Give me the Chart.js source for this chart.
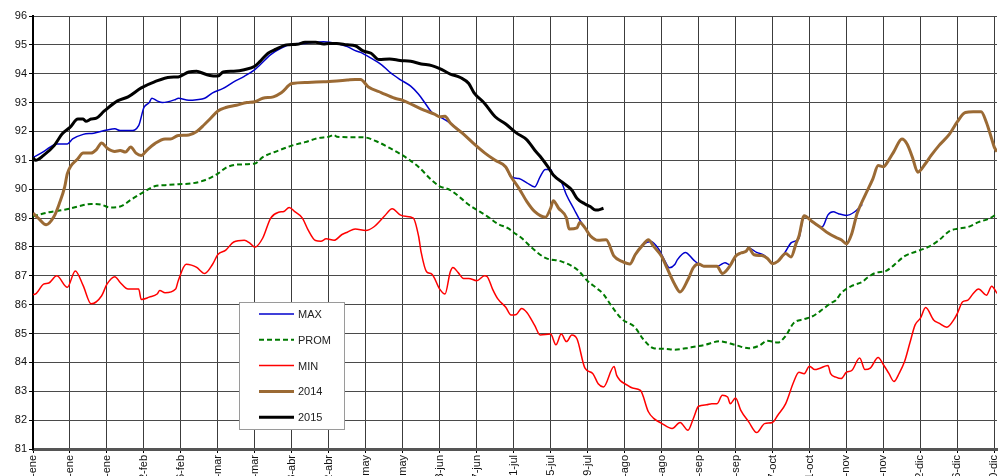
<!DOCTYPE html>
<html>
<head>
<meta charset="utf-8">
<script src="https://cdn.jsdelivr.net/npm/chart.js@4.4.1/dist/chart.umd.min.js"></script>
<style>
    html, body { margin: 0; padding: 0; background: #fff; }
    #wrap { width: 998px; height: 476px; overflow: hidden; position: relative; }
    canvas { display: block; }
</style>
</head>
<body>
<div id="wrap"><canvas id="levelChart" width="998" height="509" style="width:998px;height:509px"></canvas></div>
<script>
// Tick labels along the day axis (one every 14 days)
const tickLabels = ['1-ene', '15-ene', '29-ene', '12-feb', '26-feb', '11-mar', '25-mar', '8-abr', '22-abr',
    '6-may', '20-may', '3-jun', '17-jun', '1-jul', '15-jul', '29-jul', '12-ago', '26-ago', '9-sep',
    '23-sep', '7-oct', '21-oct', '4-nov', '18-nov', '2-dic', '16-dic', '30-dic'];

// MAX
const maxDays = [0, 4, 9, 13, 15, 19, 23, 28, 31, 33, 37, 40, 42, 44, 45, 47, 49, 54, 55, 59, 62, 65, 68, 72, 76, 80,
    84, 86, 90, 94, 98, 103, 110, 115, 119, 122, 124, 128, 132, 135, 139, 143, 146, 149, 151, 154, 158, 163, 167,
    171, 175, 179, 181, 184, 187, 190, 192, 194, 196, 197, 200, 202, 205, 207, 209, 211, 214, 217, 220, 223, 226,
    228, 231, 234, 237, 239, 241, 243, 244, 247, 250, 252, 254, 259, 260, 262, 264, 266, 268, 270, 271, 274, 277,
    278, 280, 282, 285, 287, 289, 290, 292, 295, 298, 299, 301, 303, 305, 308, 311, 314];
const maxVals = [91.1, 91.3, 91.57, 91.57, 91.74, 91.9, 91.94, 92.05, 92.09, 92.03, 92.03, 92.2, 92.83, 93.0, 93.15,
    93.06, 93.0, 93.11, 93.15, 93.08, 93.1, 93.15, 93.34, 93.49, 93.72, 93.91, 94.14, 94.31, 94.66, 94.89, 95.02,
    95.05, 95.11, 95.05, 94.94, 94.8, 94.74, 94.54, 94.31, 94.06, 93.8, 93.57, 93.29, 92.91, 92.66, 92.51, 92.29,
    91.91, 91.57, 91.26, 91.0, 90.77, 90.43, 90.37, 90.22, 90.08, 90.43, 90.68, 90.68, 90.49, 90.26, 89.8, 89.28,
    88.94, 88.66, 88.39, 88.23, 88.25, 87.68, 87.5, 87.41, 87.73, 88.08, 88.19, 87.91, 87.56, 87.28, 87.39, 87.56,
    87.81, 87.56, 87.41, 87.33, 87.33, 87.36, 87.45, 87.38, 87.68, 87.79, 87.85, 87.96, 87.81, 87.7, 87.61, 87.42,
    87.5, 87.85, 88.14, 88.22, 88.3, 89.08, 88.88, 88.7, 88.71, 89.11, 89.22, 89.15, 89.09, 89.21, 89.47];

// PROM
const promDays = [0, 6, 12, 17, 22, 26, 29, 33, 37, 42, 46, 50, 55, 60, 65, 70, 73, 77, 84, 87, 93, 98, 103, 108, 112,
    114, 115, 122, 125, 130, 135, 140, 146, 151, 154, 158, 162, 165, 168, 172, 176, 180, 182, 185, 189, 194, 200,
    206, 210, 214, 216, 219, 223, 228, 231, 235, 239, 243, 249, 254, 260, 266, 271, 275, 278, 282, 285, 288, 292,
    295, 299, 302, 304, 306, 310, 314, 316, 319, 323, 326, 330, 335, 339, 343, 347, 350, 354, 358, 362, 365];
const promVals = [89.06, 89.2, 89.29, 89.4, 89.49, 89.46, 89.37, 89.4, 89.63, 89.91, 90.1, 90.14, 90.17, 90.2, 90.31,
    90.54, 90.74, 90.85, 90.89, 91.11, 91.34, 91.51, 91.63, 91.77, 91.82, 91.88, 91.82, 91.8, 91.8, 91.66, 91.43,
    91.17, 90.77, 90.31, 90.1, 89.97, 89.69, 89.46, 89.29, 89.06, 88.8, 88.64, 88.5, 88.31, 87.96, 87.62, 87.5,
    87.22, 86.82, 86.53, 86.36, 85.96, 85.5, 85.21, 84.81, 84.49, 84.47, 84.44, 84.52, 84.6, 84.73, 84.6, 84.49,
    84.58, 84.75, 84.69, 84.92, 85.36, 85.5, 85.59, 85.84, 86.05, 86.15, 86.4, 86.65, 86.79, 86.94, 87.1, 87.17,
    87.37, 87.68, 87.86, 88.0, 88.23, 88.55, 88.63, 88.69, 88.86, 88.98, 89.15];

// MIN
const minDays = [0, 1, 4, 6, 9, 13, 16, 19, 22, 26, 28, 31, 33, 36, 40, 41, 44, 47, 48, 50, 54, 55, 58, 60, 62, 65, 68,
    70, 73, 76, 80, 82, 84, 87, 90, 93, 95, 97, 99, 102, 104, 107, 109, 111, 114, 117, 119, 122, 126, 129, 133, 136,
    139, 141, 144, 146, 147, 149, 151, 154, 156, 158, 159, 161, 163, 165, 168, 171, 172, 174, 176, 179, 181, 183,
    185, 187, 190, 192, 196, 198, 200, 202, 204, 206, 209, 212, 214, 216, 220, 221, 225, 227, 230, 233, 235, 238,
    242, 245, 248, 250, 252, 255, 257, 259, 261, 263, 264, 266, 268, 271, 274, 277, 280, 282, 285, 288, 290, 292,
    294, 296, 298, 301, 302, 304, 306, 308, 310, 313, 315, 317, 320, 322, 324, 326, 328, 330, 332, 334, 336, 338,
    341, 343, 346, 349, 350, 352, 354, 356, 358, 361, 363, 365];
const minVals = [86.35, 86.37, 86.71, 86.75, 87.0, 86.6, 87.17, 86.66, 86.03, 86.31, 86.71, 86.97, 86.77, 86.54, 86.54,
    86.18, 86.26, 86.37, 86.49, 86.41, 86.54, 86.83, 87.4, 87.37, 87.29, 87.08, 87.4, 87.74, 87.89, 88.17, 88.23,
    88.14, 87.99, 88.31, 89.0, 89.2, 89.23, 89.37, 89.23, 89.0, 88.62, 88.22, 88.2, 88.28, 88.23, 88.43, 88.51,
    88.62, 88.57, 88.69, 89.06, 89.32, 89.11, 89.06, 89.0, 88.37, 87.8, 87.14, 87.06, 86.54, 86.37, 87.14, 87.29,
    87.11, 86.91, 86.91, 86.83, 87.0, 86.97, 86.54, 86.2, 85.91, 85.64, 85.66, 85.87, 85.73, 85.27, 84.95, 84.98,
    84.61, 84.98, 84.72, 84.95, 84.81, 83.8, 83.61, 83.26, 83.15, 83.86, 83.55, 83.21, 83.11, 83.03, 82.29, 82.06,
    81.89, 81.71, 81.92, 81.65, 82.05, 82.48, 82.53, 82.57, 82.57, 82.86, 82.8, 82.57, 82.77, 82.34, 81.94, 81.57,
    81.88, 81.92, 82.17, 82.57, 83.32, 83.66, 83.61, 83.87, 83.75, 83.8, 83.89, 83.61, 83.49, 83.44, 83.66, 83.72,
    84.15, 83.75, 83.8, 84.17, 83.92, 83.63, 83.34, 83.63, 84.03, 84.67, 85.3, 85.53, 85.9, 85.47, 85.36, 85.22,
    85.53, 85.7, 86.1, 86.16, 86.39, 86.54, 86.33, 86.64, 86.39];

// 2014
const y2014Days = [0, 2, 5, 8, 10, 12, 13, 17, 19, 22, 24, 26, 28, 31, 33, 35, 37, 39, 41, 43, 46, 50, 52, 55, 59, 62,
    65, 67, 70, 73, 77, 81, 84, 87, 91, 94, 98, 104, 110, 115, 119, 122, 124, 127, 132, 137, 140, 144, 148, 152, 154,
    156, 158, 163, 167, 171, 175, 179, 181, 184, 187, 190, 194, 196, 197, 199, 202, 203, 206, 207, 209, 211, 214,
    217, 220, 223, 226, 228, 231, 233, 235, 238, 240, 243, 245, 248, 250, 252, 254, 259, 261, 264, 266, 268, 270,
    271, 273, 276, 278, 280, 282, 285, 287, 289, 290, 292, 295, 298, 301, 304, 306, 308, 310, 312, 315, 318, 320,
    322, 324, 326, 329, 331, 333, 335, 338, 340, 343, 347, 350, 353, 356, 359, 361, 363, 364, 365];
const y2014Vals = [89.17, 89.0, 88.77, 89.06, 89.51, 90.08, 90.54, 91.06, 91.25, 91.25, 91.37, 91.6, 91.43, 91.31,
    91.34, 91.29, 91.46, 91.25, 91.17, 91.34, 91.57, 91.74, 91.74, 91.86, 91.88, 92.0, 92.25, 92.43, 92.71, 92.83,
    92.91, 93.0, 93.03, 93.15, 93.2, 93.34, 93.66, 93.7, 93.72, 93.75, 93.78, 93.8, 93.8, 93.54, 93.34, 93.15, 93.08,
    92.91, 92.74, 92.6, 92.51, 92.53, 92.29, 91.91, 91.57, 91.26, 91.0, 90.77, 90.43, 90.03, 89.57, 89.22, 89.03,
    89.34, 89.6, 89.34, 89.0, 88.62, 88.66, 88.85, 88.66, 88.39, 88.23, 88.25, 87.68, 87.5, 87.41, 87.73, 88.08,
    88.25, 88.02, 87.68, 87.28, 86.7, 86.44, 86.87, 87.28, 87.41, 87.33, 87.33, 87.08, 87.36, 87.68, 87.79, 87.85,
    87.96, 87.73, 87.7, 87.61, 87.42, 87.5, 87.77, 87.65, 88.14, 88.37, 89.08, 88.88, 88.69, 88.48, 88.33, 88.25,
    88.11, 88.46, 89.15, 89.78, 90.36, 90.82, 90.78, 91.01, 91.31, 91.74, 91.56, 91.1, 90.59, 90.9, 91.16, 91.51,
    91.91, 92.34, 92.66, 92.68, 92.68, 92.31, 91.74, 91.45, 91.3];

// 2015
const y2015Days = [0, 1, 4, 8, 11, 14, 17, 19, 20, 22, 24, 27, 32, 36, 41, 46, 52, 55, 59, 62, 63, 67, 70, 72, 76, 80,
    84, 86, 89, 92, 96, 100, 103, 107, 110, 112, 115, 119, 122, 125, 128, 131, 135, 139, 143, 147, 151, 154, 158,
    162, 165, 167, 171, 175, 179, 183, 187, 190, 192, 195, 197, 201, 204, 206, 209, 211, 213, 214, 216];
const y2015Vals = [91.1, 91.0, 91.17, 91.51, 91.91, 92.14, 92.43, 92.43, 92.35, 92.43, 92.46, 92.71, 93.06, 93.2,
    93.51, 93.72, 93.88, 93.89, 94.06, 94.09, 94.06, 93.94, 93.92, 94.06, 94.09, 94.14, 94.26, 94.43, 94.71, 94.85,
    95.0, 95.02, 95.09, 95.09, 95.03, 95.05, 95.05, 95.0, 94.97, 94.79, 94.71, 94.49, 94.51, 94.46, 94.43, 94.34,
    94.28, 94.18, 93.99, 93.86, 93.66, 93.34, 92.97, 92.51, 92.26, 91.95, 91.71, 91.35, 91.14, 90.77, 90.49, 90.2,
    89.97, 89.68, 89.49, 89.4, 89.28, 89.28, 89.34];

function toPoints(days, vals) {
    return days.map((d, i) => ({ x: d, y: vals[i] }));
}

// Boxed legend inside the plot, like the spreadsheet original
const legendBox = {
    id: 'legendBox',
    afterDraw(chart, args, opts) {
        const ctx = chart.ctx;
        ctx.save();
        ctx.fillStyle = '#ffffff';
        ctx.fillRect(opts.x, opts.y, opts.w, opts.h);
        ctx.strokeStyle = '#9a9a9a';
        ctx.lineWidth = 1;
        ctx.strokeRect(opts.x + 0.5, opts.y + 0.5, opts.w, opts.h);
        chart.data.datasets.forEach((ds, i) => {
            const y = opts.y + opts.first + i * opts.step;
            ctx.beginPath();
            ctx.strokeStyle = ds.borderColor;
            ctx.lineWidth = ds.borderWidth;
            ctx.setLineDash(ds.borderDash || []);
            ctx.moveTo(opts.x + 20, y);
            ctx.lineTo(opts.x + 55, y);
            ctx.stroke();
            ctx.setLineDash([]);
            ctx.fillStyle = '#222';
            ctx.font = '11px "Liberation Sans", Arial, sans-serif';
            ctx.textBaseline = 'middle';
            ctx.fillText(ds.label, opts.x + 59, y + 1);
        });
        ctx.restore();
    }
};

const ctx = document.getElementById('levelChart').getContext('2d');
const lineBase = { pointRadius: 0, fill: false, cubicInterpolationMode: 'monotone' };

new Chart(ctx, {
    type: 'line',
    data: {
        datasets: [
            { ...lineBase, label: 'MAX', data: toPoints(maxDays, maxVals), borderColor: '#0000cc', borderWidth: 1.5, order: 5 },
            { ...lineBase, label: 'PROM', data: toPoints(promDays, promVals), borderColor: '#007a00', borderWidth: 2, borderDash: [5, 3], order: 4 },
            { ...lineBase, label: 'MIN', data: toPoints(minDays, minVals), borderColor: '#ff0000', borderWidth: 1.5, order: 3 },
            { ...lineBase, label: '2014', data: toPoints(y2014Days, y2014Vals), borderColor: '#9b6a34', borderWidth: 3, order: 2 },
            { ...lineBase, label: '2015', data: toPoints(y2015Days, y2015Vals), borderColor: '#000000', borderWidth: 3, order: 1 }
        ]
    },
    options: {
        responsive: false,
        animation: false,
        layout: { padding: { top: 16, right: 1, left: 0, bottom: 0 } },
        plugins: {
            legend: { display: false },
            tooltip: { enabled: false },
            legendBox: { x: 239, y: 302, w: 105, h: 127, first: 12, step: 25.8 }
        },
        scales: {
            x: {
                type: 'linear',
                min: 0,
                max: 365,
                afterFit(scale) {
                    scale.height = 60;
                    // no extra side room for the rotated end labels
                    scale.paddingLeft = 0;
                    scale.paddingRight = 0;
                },
                afterBuildTicks(axis) {
                    axis.ticks = tickLabels.map((t, i) => ({ value: i * 14 }));
                },
                ticks: {
                    autoSkip: false,
                    minRotation: 90,
                    maxRotation: 90,
                    padding: 2,
                    color: '#111',
                    font: { family: '"Liberation Sans", Arial, sans-serif', size: 11 },
                    callback: (value, index) => tickLabels[index]
                },
                grid: {
                    color: '#3c3c3c',
                    lineWidth: 1,
                    borderDash: [2, 1],
                    tickLength: 4,
                    tickColor: '#000',
                    tickBorderDash: []
                },
                border: { color: '#555', width: 3 }
            },
            y: {
                min: 81,
                max: 96,
                afterFit(scale) { scale.width = 33; },
                ticks: {
                    stepSize: 1,
                    padding: 2,
                    color: '#111',
                    font: { family: '"Liberation Sans", Arial, sans-serif', size: 11 }
                },
                grid: {
                    color: '#4a4a4a',
                    lineWidth: 1,
                    borderDash: [2, 1],
                    tickLength: 4,
                    tickColor: '#000',
                    tickBorderDash: []
                },
                border: { color: '#000', width: 2 }
            }
        }
    },
    plugins: [legendBox]
});
</script>
</body>
</html>
